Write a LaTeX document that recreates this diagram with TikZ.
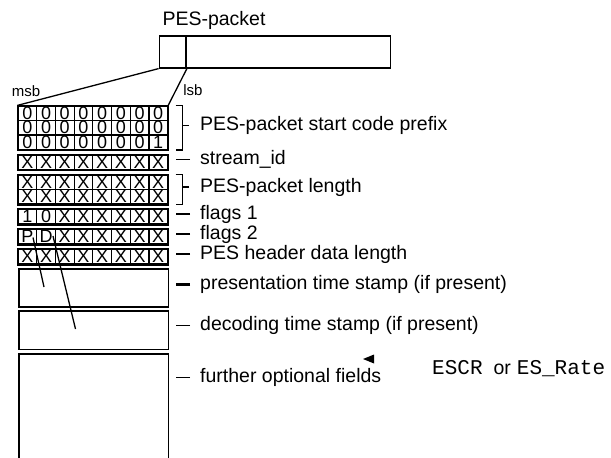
\documentclass[tikz,border=0pt]{standalone}
\usepackage{fontspec}
\setmainfont{Liberation Sans}
\newfontfamily\pesmono{Liberation Mono}
\usetikzlibrary{shapes.geometric, calc}
\tikzset{
bit/.style={draw, line width=1.2pt, minimum width=18.7pt, minimum height=14.5pt, inner sep=0, font=\fontsize{18}{18}\selectfont},
rowframe/.style={line width=1.8pt},
field/.style={draw, line width=1.6pt, minimum width=149.6pt, inner sep=0, anchor=north west},
lab/.style={anchor=mid west, inner sep=0, font=\fontsize{19.5}{22}\selectfont},
dashline/.style={line width=1.3pt},
small/.style={inner sep=0, font=\fontsize{15}{17}\selectfont}}

\begin{document}
\begin{tikzpicture}[x=1pt, y=-1pt]
\useasboundingbox (0,0) rectangle (611,458);
\node [lab, anchor=center] (title) at (214,20) {PES-packet};
\node [draw, line width=1.6pt, minimum width=231pt, minimum height=32pt, inner sep=0, anchor=north west] (pkt) at (158.6,35) {};
\node [draw, line width=1.6pt, minimum width=26.7pt, minimum height=32pt, inner sep=0, anchor=north west] (pkt-first) at (158.6,35) {};
\node [small] (msb) at (26,91) {msb};
\node [small] (lsb) at (193,90) {lsb};
\foreach \rname/\rtop/\bits in {s1/106/{0,0,0,0,0,0,0,0}, s2/120.5/{0,0,0,0,0,0,0,0}, s3/135/{0,0,0,0,0,0,0,1},
    id/155/{X,X,X,X,X,X,X,X}, len1/175/{X,X,X,X,X,X,X,X}, len2/189.5/{X,X,X,X,X,X,X,X},
    f1/209.5/{1,0,X,X,X,X,X,X}, f2/229.5/{P,D,X,X,X,X,X,X}, hdr/249.5/{X,X,X,X,X,X,X,X}}{
  \foreach \b [count=\k] in \bits
    \node [bit] (\rname-\k) at ({18+(\k-0.5)*18.7}, \rtop+7.25) {\b};
}
\foreach \a/\z in {s1/s3, id/id, len1/len2, f1/f1, f2/f2, hdr/hdr}
  \draw [rowframe] (\a-1.north west) rectangle (\z-8.south east);
\draw [line width=1.3pt] (pkt-first.south west) -- (s1-1.north west);
\draw [line width=1.3pt] (pkt-first.south east) -- (s1-8.north east);
\node [field, minimum height=38pt] (pts) at (18,268) {};
\node [field, minimum height=38.5pt] (dts) at (18,310) {};
\node [field, minimum height=120pt] (more) at (18,353) {};
\coordinate (p-from) at (33,237.5);
\coordinate (p-to) at (44,287);
\coordinate (d-from) at (53,236);
\coordinate (d-to) at (75.5,329);
\draw [line width=1.3pt] (p-from) -- (p-to);
\draw [line width=1.3pt] (d-from) -- (d-to);
\node [lab] (lab-start) at (200,128) {PES-packet start code prefix};
\node [lab] (lab-id) at (200,162) {stream\_id};
\node [lab] (lab-len) at (200,189.5) {PES-packet length};
\node [lab] (lab-f1) at (200,216.5) {flags 1};
\node [lab] (lab-f2) at (200,236.5) {flags 2};
\node [lab] (lab-hdr) at (200,256.5) {PES header data length};
\node [lab] (lab-pts) at (200,287) {presentation time stamp (if present)};
\node [lab] (lab-dts) at (200,328) {decoding time stamp (if present)};
\node [lab] (lab-more) at (200,380) {further optional fields};
\node [lab] (escr) at (432,372) {{\pesmono\fontsize{21}{24}\selectfont ESCR}\hspace{11pt}or\hspace{6pt}{\pesmono\fontsize{21}{24}\selectfont ES\_Rate}};
\node [isosceles triangle, fill, shape border rotate=180, isosceles triangle stretches, minimum height=11pt, minimum width=9pt, inner sep=0] (escr-tip) at (371,359) {};
\draw [dashline] ($(s1-8.north east)+(7.4,0)$) -- ++(7,0) |- ($(s3-8.south east)+(7.4,0)$);
\draw [dashline] ($(len1-8.north east)+(7.4,0)$) -- ++(7,0) |- ($(len2-8.south east)+(7.4,0)$);
\draw [dashline] (lab-start.west) ++(-11,0) -- ++(-7,0);
\draw [dashline] (lab-len.west) ++(-11,0) -- ++(-7,0);
\draw [dashline] (lab-id.west) ++(-10,0) -- ++(-14,0);
\draw [dashline] (lab-f1.west) ++(-10,0) -- ++(-14,0);
\draw [dashline] (lab-f2.west) ++(-10,0) -- ++(-14,0);
\draw [dashline, line width=2pt] (lab-hdr.west) ++(-10,0) -- ++(-14,0);
\draw [dashline, line width=3pt] (lab-pts.west) ++(-10,0) -- ++(-14,0);
\draw [dashline] (lab-dts.west) ++(-10,0) -- ++(-14,0);
\draw [dashline] (lab-more.west) ++(-10,0) -- ++(-14,0);
\end{tikzpicture}
\end{document}
